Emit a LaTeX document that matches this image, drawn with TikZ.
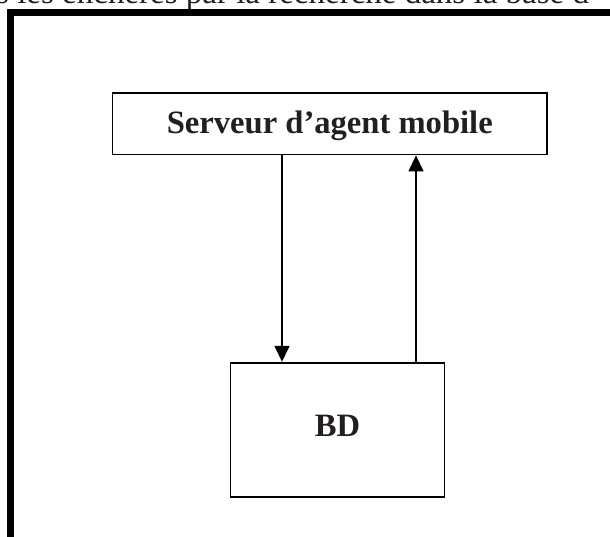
\documentclass[tikz,border=0pt]{standalone}
\usepackage{fontspec}
\setmainfont{Liberation Serif}
\usetikzlibrary{arrows.meta}
\definecolor{ink}{HTML}{231F20}
\tikzset{
  box/.style={draw=black, line width=1.8pt, rectangle, inner sep=0pt,
    font=\bfseries\fontsize{32.6}{39}\selectfont, text=ink},
  link/.style={draw=black, line width=1.4pt,
    -{Triangle[width=15pt,length=16pt]}},
  frameline/.style={draw=black, line width=6.7pt, line join=miter}
}
\begin{document}
\begin{tikzpicture}[x=1pt,y=-1pt]
\useasboundingbox (0,0) rectangle (610,537);
\clip (0,0) rectangle (610,537);

% running text line above the frame
\node[anchor=base west, inner sep=0pt, text=ink,
      font=\fontsize{33}{40}\selectfont] (caption) at (-4,4)
  {s les enchères par la recherche dans la base d};

% thick frame around the figure
\coordinate (fbl) at (10.7,560);
\coordinate (ftl) at (10.7,12.7);
\coordinate (ftr) at (640,12.7);
\draw[frameline] (fbl) -- (ftl) -- (ftr);

% boxes
\node[box, minimum width=434.5pt, minimum height=61.8pt, text depth=2pt]
  (server) at (329.75,123.6) {Serveur d’agent mobile};
\node[box, minimum width=214pt, minimum height=134pt, text depth=8pt]
  (db) at (337.5,429.7) {BD};

% request and reply arrows
\coordinate (downx) at (282,0);
\coordinate (upx) at (416,0);
\draw[link] (server.south -| downx) -- (db.north -| downx);
\draw[link] (db.north -| upx) -- (server.south -| upx);
\end{tikzpicture}
\end{document}
